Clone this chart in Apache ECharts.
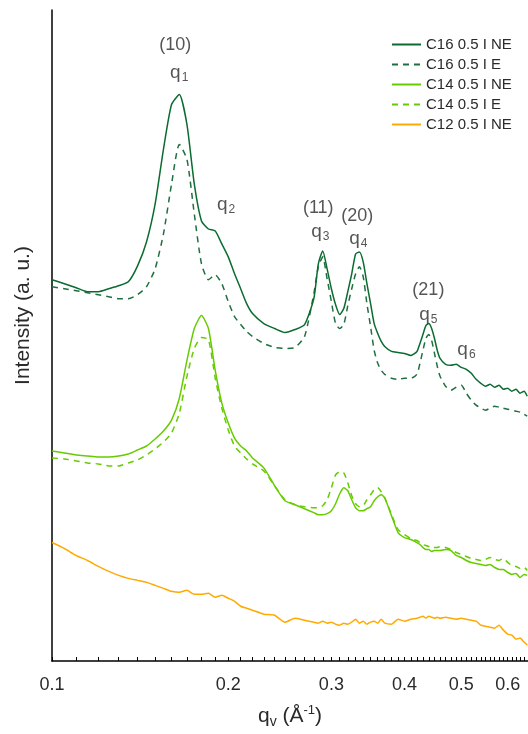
<!DOCTYPE html>
<html>
<head>
<meta charset="utf-8">
<script src="https://cdn.jsdelivr.net/npm/echarts@6/dist/echarts.min.js"></script>
<style>html,body{margin:0;padding:0;background:#fff}#c{width:528px;height:734px}</style>
</head>
<body>
<div id="c"></div>
<script>
// scattering vector q (Å^-1)
const q = [0.100,0.105,0.110,0.115,0.120,0.125,0.130,0.135,0.140,0.145,
  0.150,0.155,0.160,0.165,0.170,0.175,0.180,0.185,0.190,0.195,
  0.200,0.205,0.210,0.215,0.220,0.230,0.240,0.250,0.260,0.270,
  0.280,0.285,0.290,0.295,0.300,0.305,0.310,0.315,0.320,0.325,
  0.330,0.335,0.340,0.345,0.350,0.355,0.360,0.365,0.370,0.380,
  0.390,0.400,0.410,0.420,0.425,0.430,0.435,0.440,0.445,0.450,
  0.455,0.460,0.470,0.480,0.490,0.500,0.510,0.520,0.530,0.540,
  0.550,0.560,0.570,0.580,0.590,0.600,0.610,0.620,0.630,0.640,
  0.648];

const c16NE = [383,379,375,371,371,374,377,381,397,421,
  459,514,559,569,539,479,442,434,432,419,
  406,389,374,359,349,339,334,330,333,338,
  364,399,412,394,374,358,348,354,371,389,
  409,411,401,379,359,339,329,321,316,311,
  310,309,307,311,319,328,337,339,334,324,
  312,304,298,297,298,295,293,289,283,279,
  276,278,275,277,273,274,271,273,269,271,
  266];

const c16E = [376,374,372,370,368,366,364,364,368,376,
  394,429,479,519,504,449,399,383,388,379,
  361,346,338,331,326,319,315,314,315,326,
  369,396,406,384,361,339,334,338,357,374,
  389,396,386,359,336,312,299,292,288,284,
  283,284,284,288,299,312,324,328,322,309,
  296,286,276,272,275,277,269,262,257,254,
  252,254,256,255,254,253,252,251,250,248,
  246];

const c14NE = [211,209,207,206,205,205,206,208,212,216,
  223,231,242,264,302,334,347,334,292,259,
  239,224,216,211,204,194,176,161,157,153,
  149,147,147,148,151,158,168,174,171,162,
  154,151,151,153,155,161,165,167,164,146,
  129,124,122,119,117,114,112,112,110,111,
  111,111,112,111,106,104,101,99,98,97,
  96,97,94,92,92,89,87,88,84,87,
  86];

const c14E = [204,203,201,199,198,196,196,199,202,207,
  213,220,229,249,286,314,325,323,284,254,
  232,216,209,203,198,191,176,162,157,155,
  154,154,156,162,174,187,190,189,179,166,
  158,155,156,162,167,172,174,170,164,147,
  132,127,123,121,119,117,116,115,113,114,
  114,115,114,112,109,107,105,103,102,101,
  102,104,102,101,103,99,96,95,93,94,
  91];

const c12NE = [119,113,106,101,95,90,86,83,81,79,
  76,73,70,69,71,67,67,68,64,66,
  63,60,55,53,51,47,46,39,43,41,
  39,38,40,38,39,37,36,38,37,39,
  42,38,40,37,39,40,38,42,38,37,
  42,40,42,43,44,45,43,45,44,43,
  44,43,44,43,42,43,42,41,40,36,
  35,34,33,36,31,27,26,22,23,19,
  16];

const seriesNames = ['C16 0.5 I NE','C16 0.5 I E','C14 0.5 I NE','C14 0.5 I E','C12 0.5 I NE'];
const seriesColors = ['#0b6b30','#1f7040','#66cc00','#66cc00','#ffaa00'];
const seriesDashed = [false,true,false,true,false];
const seriesValues = [c16NE,c16E,c14NE,c14E,c12NE];

const tickLabels = [0.1,0.2,0.3,0.4,0.5,0.6];
const xMin = 0.1, xMax = 0.65;

// peak annotations
const annotQ = [0.1623,0.1649,0.1983,0.2849,0.2872,0.3322,0.3335,0.4393,0.4393,0.5103];
const annotV = [619,591,458,455,431,447,424,373,348,313];
const annotText = ['(10)','{q|q}{s|1}','{q|q}{s|2}','(11)','{q|q}{s|3}','(20)','{q|q}{s|4}','(21)','{q|q}{s|5}','{q|q}{s|6}'];

const minorTicks = [];
for (let i = 10; i <= 65; i++) minorTicks.push(Math.log10(i / 100));

const chart = echarts.init(document.getElementById('c'));
const font = 'Liberation Sans, Arial, sans-serif';
const txt = '#2a2a2a';

const series = seriesValues.map((vals, k) => ({
  name: seriesNames[k],
  type: 'line',
  symbol: 'none',
  showSymbol: false,
  smooth: 0.2,
  animation: false,
  data: q.map((x, i) => [Math.log10(x), vals[i]]),
  lineStyle: { color: seriesColors[k], width: 1.5, type: seriesDashed[k] ? [6, 5] : 'solid' },
  itemStyle: { color: seriesColors[k] },
  z: 10 - k
}));

series.push({
  type: 'scatter',
  name: 'annot',
  symbolSize: 1,
  itemStyle: { color: 'rgba(0,0,0,0)' },
  animation: false,
  silent: true,
  data: annotQ.map((x, i) => [Math.log10(x), annotV[i], annotText[i]]),
  label: {
    show: true,
    position: 'inside',
    formatter: p => p.data[2],
    color: txt,
    fontFamily: font,
    fontSize: 18,
    rich: {
      q: { fontSize: 19, color: txt, fontFamily: font, lineHeight: 22 },
      s: { fontSize: 12, color: txt, fontFamily: font, lineHeight: 22, verticalAlign: 'bottom', padding: [8, 0, 0, 1] }
    }
  }
});

chart.setOption({
  backgroundColor: '#fff',
  animation: false,
  grid: { left: 52, right: 0, top: 10, bottom: 70, containLabel: false },
  legend: {
    data: seriesNames,
    orient: 'vertical',
    left: 386,
    top: 32,
    padding: 5,
    itemWidth: 29,
    itemHeight: 14,
    itemGap: 5,
    itemStyle: { opacity: 0 },
    textStyle: { fontSize: 15, lineHeight: 14, color: txt, fontFamily: font }
  },
  xAxis: {
    type: 'value',
    min: Math.log10(xMin),
    max: Math.log10(xMax),
    axisLine: { show: true, onZero: false, lineStyle: { color: '#000', width: 1.5 } },
    axisTick: { show: true, inside: true, length: 4, customValues: minorTicks, lineStyle: { color: '#000', width: 1 } },
    axisLabel: {
      customValues: tickLabels.map(v => Math.log10(v)),
      formatter: v => (Math.round(Math.pow(10, v) * 10) / 10).toFixed(1),
      fontSize: 18, color: txt, fontFamily: font, margin: 15
    },
    splitLine: { show: false },
    name: '{t|q}{s|v}{t| (Å}{p|-1}{t|)}',
    nameLocation: 'middle',
    nameGap: 43,
    nameTextStyle: {
      rich: {
        t: { fontSize: 21, color: txt, fontFamily: font },
        s: { fontSize: 14, color: txt, fontFamily: font, verticalAlign: 'bottom', padding: [11, 0, 0, 0] },
        p: { fontSize: 13, color: txt, fontFamily: font, verticalAlign: 'top', padding: [0, 0, 9, 0] }
      }
    }
  },
  yAxis: {
    type: 'value',
    min: 0,
    max: 654,
    axisLine: { show: true, lineStyle: { color: '#000', width: 1.5 } },
    axisTick: { show: false },
    axisLabel: { show: false },
    splitLine: { show: false },
    name: 'Intensity (a. u.)',
    nameLocation: 'middle',
    nameGap: 18,
    nameTextStyle: { fontSize: 21, color: txt, fontFamily: font, padding: [0, 0, 0, 40] }
  },
  series: series
});
</script>
</body>
</html>
